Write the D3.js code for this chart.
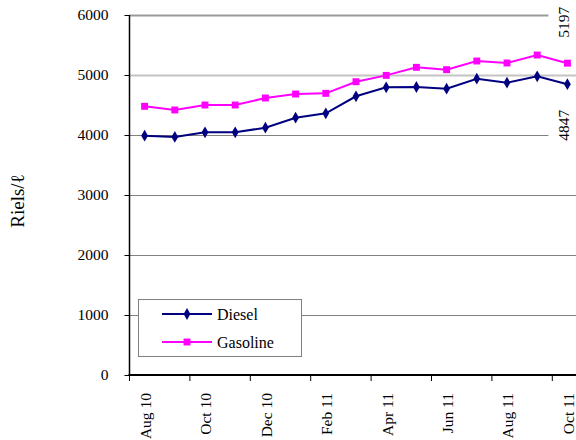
<!DOCTYPE html>
<html>
<head>
<meta charset="utf-8">
<script src="https://cdn.jsdelivr.net/npm/d3@7"></script>
<style>
  body { margin: 0; background: #fff; }
  svg { display: block; font-family: "Liberation Serif", "Times New Roman", serif; }
  text { font-family: "Liberation Serif", "Times New Roman", serif; }
</style>
</head>
<body>
<svg id="chart" width="576" height="440"></svg>
<script>
const months = ["Aug 10","Sep 10","Oct 10","Nov 10","Dec 10","Jan 11","Feb 11","Mar 11","Apr 11","May 11","Jun 11","Jul 11","Aug 11","Sep 11","Oct 11"];
const diesel = [3988, 3967, 4045, 4045, 4122, 4288, 4361, 4645, 4795, 4800, 4772, 4938, 4872, 4978, 4847];
const gasoline = [4478, 4417, 4500, 4500, 4617, 4683, 4694, 4888, 4994, 5128, 5089, 5233, 5200, 5333, 5197];
const yTicks = [0, 1000, 2000, 3000, 4000, 5000, 6000];
const xLabels = ["Aug 10","Oct 10","Dec 10","Feb 11","Apr 11","Jun 11","Aug 11","Oct 11"];
const yTitle = "Riels/ℓ";
const seriesNames = ["Diesel", "Gasoline"];

const svg = d3.select("#chart");
const plotLeft = 129.5, plotTop = 15, plotBottom = 375;
const step = 30.2;

const x = d3.scaleBand().domain(months).range([plotLeft, plotLeft + months.length * step]).padding(0);
const y = d3.scaleLinear().domain([0, 6000]).range([plotBottom, plotTop]);
const cx = d => x(d) + x.bandwidth() / 2;

// gridlines
const gridStyle = v => v === 6000 ? {c: "#9a9a9a", w: 2} : v === 5000 ? {c: "#c4c4c4", w: 2} : {c: "#808080", w: 1};
svg.append("g").selectAll("line").data(yTicks.filter(v => v > 0)).join("line")
  .attr("x1", plotLeft).attr("x2", 576)
  .attr("y1", d => Math.round(y(d)) + 0.5).attr("y2", d => Math.round(y(d)) + 0.5)
  .attr("stroke", d => gridStyle(d).c).attr("stroke-width", d => gridStyle(d).w);

// y axis
const yAxis = d3.axisLeft(y).tickValues(yTicks).tickSize(5).tickPadding(16).tickFormat(d3.format("d"));
const gy = svg.append("g").attr("transform", `translate(${plotLeft},0)`).call(yAxis);
gy.attr("font-family", null).attr("font-size", null);
gy.select(".domain").attr("stroke", "#000").attr("stroke-width", 1.5).attr("d", `M0,${plotTop}V${plotBottom}`);
gy.selectAll(".tick line").attr("stroke", "#000");
gy.selectAll(".tick text").attr("font-size", 15.5).attr("fill", "#000");

// x axis (ticks between categories, every 2)
const gx = svg.append("g");
gx.append("line").attr("x1", plotLeft - 1).attr("x2", 576).attr("y1", plotBottom).attr("y2", plotBottom)
  .attr("stroke", "#000").attr("stroke-width", 2);
const tickIdx = d3.range(0, months.length + 1, 2);
gx.selectAll("line.tk").data(tickIdx).join("line").attr("class", "tk")
  .attr("x1", i => plotLeft + i * x.step()).attr("x2", i => plotLeft + i * x.step())
  .attr("y1", plotBottom).attr("y2", plotBottom + 6).attr("stroke", "#000").attr("stroke-width", 1);
gx.selectAll("text").data(xLabels).join("text")
  .attr("transform", d => `translate(${cx(d) + 1},${393}) rotate(-90)`)
  .attr("text-anchor", "end").attr("dy", "0.35em")
  .attr("font-size", 15.5).attr("fill", "#000").text(d => d);

// y title
svg.append("text").attr("transform", "translate(17,201) rotate(-90)")
  .attr("text-anchor", "middle").attr("dy", "0.35em").attr("font-size", 19).text(yTitle);

// series
const line = d3.line().x((d, i) => cx(months[i])).y(d => y(d));
const diamond = d3.symbol().type(d3.symbolDiamond).size(40);
const square = d3.symbol().type(d3.symbolSquare).size(48);

svg.append("path").datum(gasoline).attr("d", line).attr("fill", "none").attr("stroke", "#ff00ff").attr("stroke-width", 2);
svg.append("g").selectAll("path").data(gasoline).join("path")
  .attr("d", square).attr("transform", (d, i) => `translate(${cx(months[i])},${y(d)})`).attr("fill", "#ff00ff");

svg.append("path").datum(diesel).attr("d", line).attr("fill", "none").attr("stroke", "#000080").attr("stroke-width", 2);
svg.append("g").selectAll("path").data(diesel).join("path")
  .attr("d", diamond).attr("transform", (d, i) => `translate(${cx(months[i])},${y(d)})`).attr("fill", "#000080");

// data labels for last points
const last = months.length - 1;
const labels = [
  {v: gasoline[last], yy: y(gasoline[last]) - 41},
  {v: diesel[last], yy: y(diesel[last]) + 41}
];
const lg = svg.append("g");
labels.forEach(l => {
  lg.append("rect").attr("x", cx(months[last]) - 19).attr("y", l.yy - 19).attr("width", 35).attr("height", 38).attr("fill", "#fff");
  lg.append("text").attr("transform", `translate(${cx(months[last]) - 4},${l.yy}) rotate(-90)`)
    .attr("text-anchor", "middle").attr("dy", "0.35em").attr("font-size", 15.5).text(l.v);
});

// legend
const leg = svg.append("g");
leg.append("rect").attr("x", 138.5).attr("y", 299.5).attr("width", 163).attr("height", 57)
  .attr("fill", "#fff").attr("stroke", "#808080").attr("stroke-width", 1);
const legItems = [{n: seriesNames[0], c: "#000080", s: diamond, yy: 314}, {n: seriesNames[1], c: "#ff00ff", s: square, yy: 342}];
legItems.forEach(it => {
  leg.append("line").attr("x1", 162).attr("x2", 212).attr("y1", it.yy).attr("y2", it.yy).attr("stroke", it.c).attr("stroke-width", 2);
  leg.append("path").attr("d", it.s).attr("transform", `translate(187,${it.yy})`).attr("fill", it.c);
  leg.append("text").attr("x", 217).attr("y", it.yy).attr("dy", "0.35em").attr("font-size", 16).text(it.n);
});
</script>
</body>
</html>
